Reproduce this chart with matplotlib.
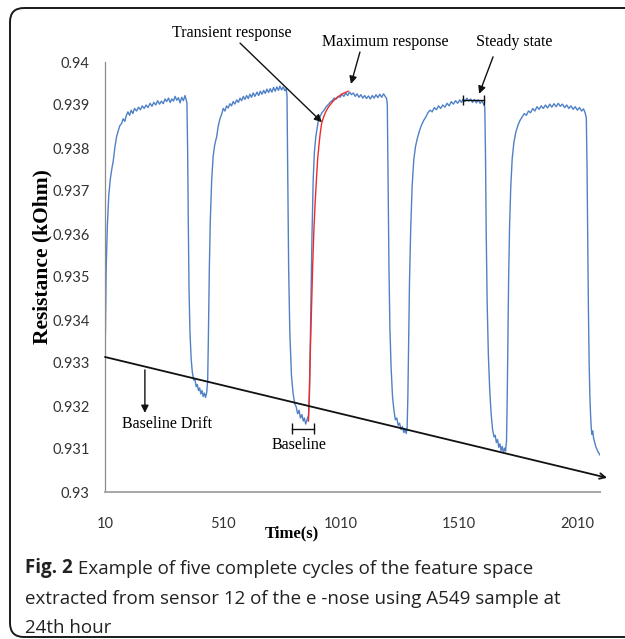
import matplotlib
matplotlib.use('Agg')
import matplotlib.pyplot as plt
from matplotlib.patches import FancyBboxPatch

# sensor 12 response, five cycles (time in s, resistance in kOhm)
time_s = [
    10, 12, 15, 20, 26, 33, 40, 45, 52, 59, 66, 73, 80, 87, 94, 100, 107, 114, 121, 128,
    135, 144, 152, 160, 168, 176, 184, 192, 201, 209, 217, 225, 233, 241, 249, 257, 264,
    271, 279, 286, 293, 300, 307, 314, 321, 328, 335, 342, 349, 354, 357,
    360, 363, 366, 370, 375, 380, 386, 391, 396, 401, 406, 411, 416, 421, 426, 431, 436, 441, 445,
    448, 452, 456, 462, 468, 475, 483, 490, 497, 504, 511, 518, 525, 532, 539, 546, 553, 560,
    568, 575, 582, 589, 596, 603, 610, 617, 624, 631, 638, 645, 654, 661, 668, 675, 682, 689,
    696, 703, 710, 717, 724, 731, 738, 745, 751, 758, 765, 772, 778,
    781, 784, 788, 793, 800, 807, 814, 820, 826, 832, 838, 844, 850, 855, 860, 866, 872,
    876, 879, 883, 887, 892, 897, 903, 912, 920, 929, 938, 947, 956, 963, 972, 981, 990, 998,
    1006, 1014, 1022, 1030, 1038, 1046, 1054, 1062, 1070, 1078, 1086, 1094, 1102, 1110, 1118,
    1126, 1134, 1142, 1150, 1158, 1166, 1174, 1182, 1190, 1197, 1203,
    1206, 1209, 1213, 1217, 1222, 1228, 1234, 1240, 1246, 1252, 1258, 1264, 1270, 1276, 1281,
    1286, 1290,
    1293, 1296, 1300, 1305, 1311, 1318, 1325, 1332, 1341, 1350, 1360, 1369, 1378, 1387, 1396,
    1405, 1414, 1423, 1432, 1441, 1450, 1459, 1468, 1477, 1486, 1495, 1504, 1513, 1520, 1527,
    1535, 1543, 1551, 1559, 1567, 1575, 1583, 1591, 1599, 1607, 1614, 1619,
    1622, 1625, 1629, 1634, 1640, 1646, 1652, 1658, 1663, 1668, 1673, 1678, 1683, 1688, 1693,
    1698, 1703, 1707, 1711,
    1714, 1717, 1720, 1724, 1729, 1735, 1742, 1750, 1759, 1768, 1777, 1786, 1795, 1804, 1813,
    1822, 1831, 1840, 1849, 1858, 1867, 1876, 1885, 1894, 1903, 1912, 1921, 1930, 1939, 1948,
    1957, 1966, 1975, 1984, 1993, 2002, 2011, 2020, 2029, 2037, 2044, 2049,
    2052, 2055, 2058, 2061, 2064, 2067, 2070, 2073, 2076, 2080, 2085, 2090, 2095, 2100, 2107,
]
resistance = [
    0.9331, 0.9338, 0.9352, 0.9362, 0.9369, 0.9373, 0.93755, 0.9377, 0.93802, 0.93826, 0.9384,
    0.93852, 0.93857, 0.93868, 0.93862, 0.93875, 0.93884, 0.93876, 0.93888, 0.9388,
    0.93892, 0.93886, 0.93895, 0.93889, 0.93898, 0.93892, 0.939, 0.93894, 0.93904, 0.93897,
    0.93906, 0.939, 0.9391, 0.93902, 0.93909, 0.93903, 0.93914,
    0.93908, 0.93916, 0.93906, 0.93914, 0.93909, 0.9392, 0.93911, 0.93917, 0.93905, 0.93918,
    0.9391, 0.93922, 0.93912, 0.93905,
    0.9380, 0.9362, 0.9347, 0.9337, 0.9331, 0.93278, 0.9326, 0.93262, 0.93245, 0.9325, 0.93236,
    0.93242, 0.93228, 0.93236, 0.93222, 0.9323, 0.9322, 0.93232, 0.9326,
    0.9336, 0.9352, 0.9363, 0.93726, 0.9378, 0.93808, 0.93826, 0.93852, 0.93868, 0.93878,
    0.93892, 0.93886, 0.93898, 0.93893, 0.93903, 0.93898, 0.93908, 0.93902,
    0.93912, 0.93906, 0.93916, 0.9391, 0.9392, 0.93913, 0.93922, 0.93915, 0.93925, 0.93918,
    0.93928, 0.9392, 0.9393, 0.93922, 0.93932, 0.93925, 0.93934, 0.93927,
    0.93937, 0.93929, 0.93938, 0.9393, 0.93941, 0.93932, 0.93942, 0.93934, 0.93944, 0.93935,
    0.93942, 0.93933, 0.93938,
    0.9392, 0.9374, 0.9352, 0.9337, 0.9327, 0.93228, 0.93205, 0.93198, 0.93182, 0.9319,
    0.93172, 0.9318, 0.93165, 0.93172, 0.93158, 0.93168, 0.93178,
    0.9322, 0.9332, 0.9346, 0.936, 0.93726, 0.9379, 0.93826, 0.93858, 0.93872, 0.93882,
    0.93888, 0.93896, 0.93901, 0.93906, 0.9391, 0.93916, 0.93914, 0.9392,
    0.93918, 0.93925, 0.9392, 0.93928, 0.93922, 0.9393, 0.93924, 0.93928, 0.9392, 0.93926,
    0.93918, 0.93924, 0.93916, 0.93922, 0.93915,
    0.93921, 0.93914, 0.93922, 0.93916, 0.93924, 0.93917, 0.93925, 0.93918, 0.93926, 0.9392,
    0.93915,
    0.9390, 0.9373, 0.9352, 0.9338, 0.9329, 0.93222, 0.9319, 0.93168, 0.93172, 0.93155,
    0.9316, 0.93145, 0.93152, 0.93138, 0.93146, 0.93136, 0.9315,
    0.9322, 0.9334, 0.9349, 0.9361, 0.9371, 0.93772, 0.93802, 0.9382, 0.93838, 0.93852,
    0.93864, 0.93872, 0.93882, 0.93888, 0.93884,
    0.93894, 0.93889, 0.93898, 0.93892, 0.939, 0.93895, 0.93904, 0.93898, 0.93908, 0.93902,
    0.9391, 0.93904, 0.93912, 0.93906, 0.93914,
    0.93908, 0.93916, 0.93909, 0.93914, 0.93906, 0.93913, 0.93905, 0.93912, 0.93904, 0.9391,
    0.93902, 0.93895,
    0.9378, 0.936, 0.9344, 0.9332, 0.93235, 0.9318, 0.93145, 0.93128, 0.93132, 0.93115,
    0.93122, 0.93104, 0.93112, 0.93096, 0.93106,
    0.93092, 0.93102, 0.93095, 0.9312,
    0.9322, 0.9336, 0.935, 0.9362, 0.9371, 0.93775, 0.93812, 0.93836, 0.93852, 0.93864,
    0.93872, 0.9388, 0.93876, 0.93886, 0.93882,
    0.93892, 0.93886, 0.93896, 0.9389, 0.93898, 0.93892, 0.939, 0.93893, 0.93902, 0.93895,
    0.93903, 0.93896, 0.93904, 0.93897, 0.93902,
    0.93894, 0.939, 0.93892, 0.93898, 0.9389, 0.93896, 0.93888, 0.93894, 0.93886, 0.93891,
    0.93882, 0.9387,
    0.9376, 0.9358, 0.9342, 0.933, 0.93225, 0.9318, 0.93148, 0.93134, 0.93142, 0.93125,
    0.93114, 0.93104, 0.93098, 0.93092, 0.93086,
]

# highlighted transient part of the third cycle
red_time = [872, 876, 880, 885, 890, 895, 900, 906, 911, 917, 922, 928, 936, 945, 955, 966,
            978, 990, 1002, 1015, 1028, 1040]
red_res = [0.93165, 0.9324, 0.9333, 0.9343, 0.9353, 0.9361, 0.9367, 0.9373, 0.93775, 0.9381,
           0.93835, 0.93858, 0.93872, 0.93884, 0.93894, 0.93902, 0.9391, 0.93916, 0.93921,
           0.93926, 0.93929, 0.93932]

y_ticks = [0.93, 0.931, 0.932, 0.933, 0.934, 0.935, 0.936, 0.937, 0.938, 0.939, 0.94]
y_labels = ['0.93', '0.931', '0.932', '0.933', '0.934', '0.935', '0.936', '0.937', '0.938',
            '0.939', '0.94']
x_ticks = [10, 510, 1010, 1510, 2010]

fig = plt.figure(figsize=(6.25, 6.39), dpi=100)

# background layer in pixel units for the frame and caption
bg = fig.add_axes([0, 0, 1, 1], zorder=0)
bg.set_xlim(0, 625)
bg.set_ylim(639, 0)
bg.axis('off')
bg.add_patch(FancyBboxPatch((10, 8), 640, 629, boxstyle='round,pad=0,rounding_size=14',
                            fill=False, ec='#1a1a1a', lw=1.4))

ax = fig.add_axes([105 / 625, 1 - 492 / 639, 495 / 625, 430 / 639], zorder=1)
ax.set_facecolor('none')
ax.plot(time_s, resistance, color='#4f81c7', lw=1.0)
ax.plot(red_time, red_res, color='#ee2a2a', lw=1.0)

ax.set_xlim(10, 2107)
ax.set_ylim(0.93, 0.94)
ax.set_xticks(x_ticks)
ax.set_xticklabels([str(x) for x in x_ticks])
ax.set_yticks(y_ticks)
ax.set_yticklabels(y_labels)
ax.tick_params(length=0)
ax.tick_params(axis='y', pad=11)
ax.tick_params(axis='x', pad=18)
for lbl in ax.get_xticklabels() + ax.get_yticklabels():
    lbl.set_family('Lato')
    lbl.set_fontsize(10.5)
    lbl.set_color('#333333')
for s in ['top', 'right']:
    ax.spines[s].set_visible(False)
ax.spines['left'].set_color('#8c8c8c')
ax.spines['left'].set_linewidth(0.9)
ax.spines['bottom'].set_color('#a6a6a6')
ax.spines['bottom'].set_linewidth(1.4)

serif = 'Liberation Serif'
bg.text(42, 257, 'Resistance (kOhm)', rotation=90, ha='center', va='center',
        family=serif, fontweight='bold', fontsize=15.5)
bg.text(292, 533, 'Time(s)', ha='center', va='center', family=serif,
        fontweight='bold', fontsize=12)

# baseline drift line
ax.annotate('', xy=(2137, 0.93033), xytext=(10, 0.93314), annotation_clip=False,
            arrowprops=dict(arrowstyle='->', color='#111111', lw=1.3, shrinkA=0, shrinkB=0,
                            mutation_scale=10))

arrow_kw = dict(arrowstyle='-|>', color='#111111', lw=1.0, shrinkA=0, shrinkB=0,
                mutation_scale=11)
ax.annotate('', xy=(929, 0.9386), xytext=(582, 0.94044), annotation_clip=False,
            arrowprops=arrow_kw)
ax.annotate('', xy=(1052, 0.93949), xytext=(1090, 0.94023), annotation_clip=False,
            arrowprops=arrow_kw)
ax.annotate('', xy=(1595, 0.93926), xytext=(1654, 0.94012), annotation_clip=False,
            arrowprops=arrow_kw)
ax.annotate('', xy=(179, 0.93184), xytext=(179, 0.93284), annotation_clip=False,
            arrowprops=arrow_kw)

txt_kw = dict(ha='center', va='center', family=serif, fontsize=11.5, clip_on=False)
ax.text(548, 0.940674, 'Transient response', **txt_kw)
ax.text(1196, 0.940465, 'Maximum response', **txt_kw)
ax.text(1743, 0.940465, 'Steady state', **txt_kw)
ax.text(273, 0.931581, 'Baseline Drift', **txt_kw)
ax.text(832, 0.931093, 'Baseline', **txt_kw)

# brackets marking baseline and steady state
ax.plot([801, 894], [0.93147, 0.93147], color='#111111', lw=1.0)
ax.vlines([801, 894], 0.93147 - 0.00013, 0.93147 + 0.00013, color='#111111', lw=1.0)
ax.plot([1527, 1616], [0.93912, 0.93912], color='#111111', lw=1.0)
ax.vlines([1527, 1616], 0.93912 - 0.00011, 0.93912 + 0.00011, color='#111111', lw=1.0)

# caption
cap_kw = dict(family='Open Sans', fontsize=13.5, color='#222222', va='bottom')
fig_lbl = bg.text(25, 578, 'Fig. 2', fontweight='bold', ha='left', **cap_kw)
bg.annotate(' Example of five complete cycles of the feature space', xy=(1, 0),
            xycoords=fig_lbl, ha='left', **cap_kw)
bg.text(25, 608, 'extracted from sensor 12 of the e -nose using A549 sample at',
        ha='left', **cap_kw)
bg.text(25, 637, '24th hour', ha='left', **cap_kw)

fig.savefig('out.png', dpi=100)
